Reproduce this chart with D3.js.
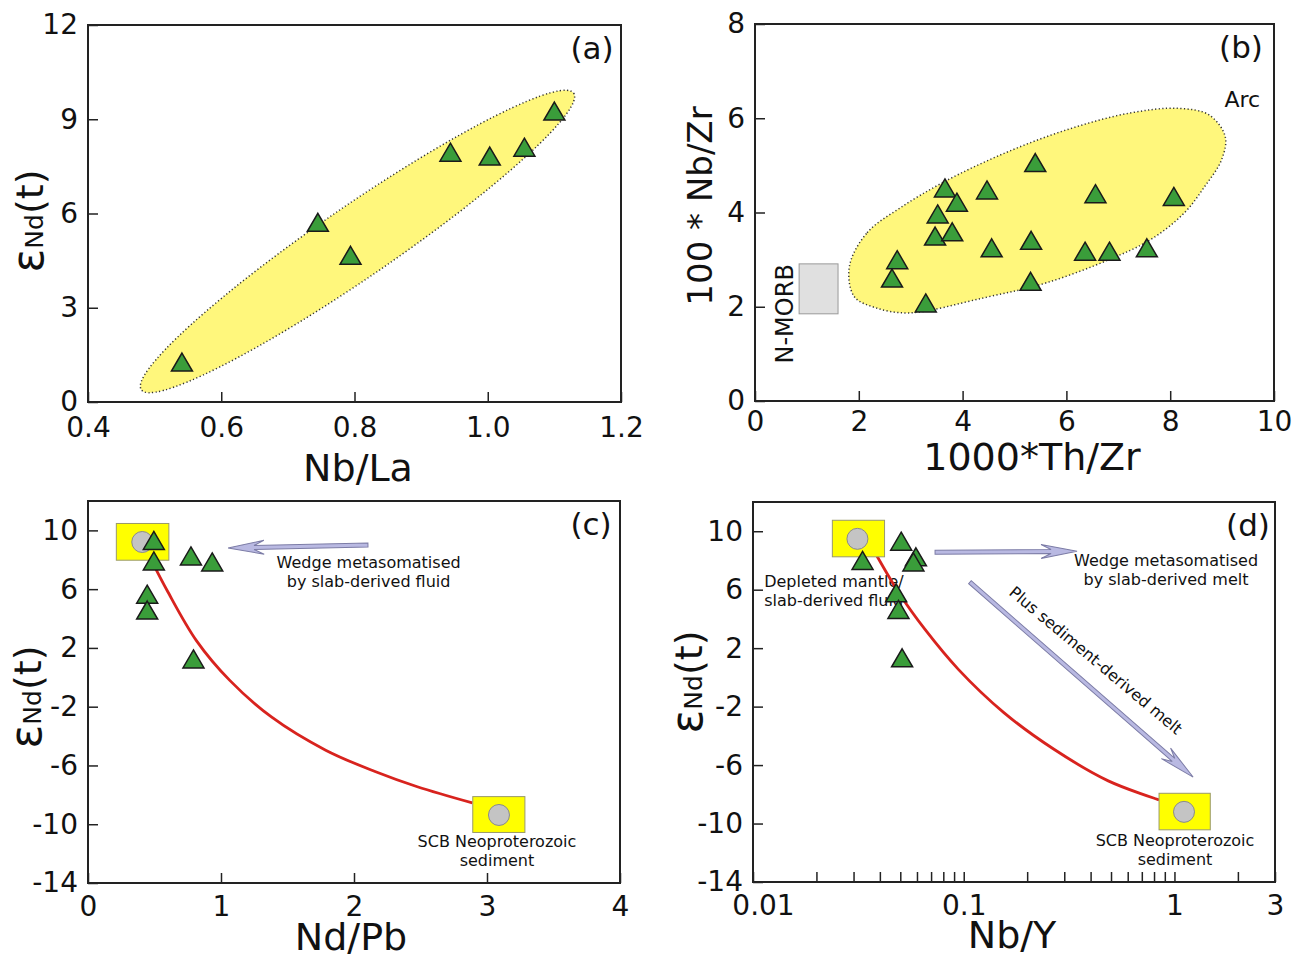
<!DOCTYPE html>
<html>
<head>
<meta charset="utf-8">
<script src="https://cdnjs.cloudflare.com/ajax/libs/d3/7.8.5/d3.min.js"></script>
<style>
  body { margin: 0; background: #fff; }
  text { font-family: "DejaVu Sans", sans-serif; }
</style>
</head>
<body>
<svg id="chart" width="1301" height="958"></svg>
<script>
// ---- data ----
// (a) Nb/La vs eNd(t)
const aNbLa = [0.541, 0.745, 0.794, 0.944, 1.003, 1.055, 1.100];
const aEnd  = [1.27, 5.72, 4.67, 7.95, 7.83, 8.11, 9.26];
const aRegionTips = [[0.480, 0.39], [1.129, 9.83]];

// (b) 1000*Th/Zr vs 100*Nb/Zr
const bThZr = [3.66, 4.47, 3.89, 5.40, 6.56, 8.07, 3.52, 3.47, 3.80, 4.56, 5.32, 6.36, 6.83, 7.55, 2.74, 2.64, 5.31, 3.29];
const bNbZr = [4.52, 4.48, 4.22, 5.06, 4.40, 4.34, 3.97, 3.50, 3.59, 3.25, 3.41, 3.18, 3.18, 3.25, 3.00, 2.61, 2.54, 2.08];
const bArcX = [1.82, 2.16, 2.80, 3.66, 4.81, 6.02, 7.22, 8.15, 8.75, 9.06, 8.99, 8.67, 8.27, 7.63, 6.82, 5.62, 4.41, 2.96, 2.32, 1.91];
const bArcY = [2.86, 3.57, 4.10, 4.66, 5.26, 5.76, 6.11, 6.21, 6.07, 5.61, 5.12, 4.56, 3.99, 3.43, 3.00, 2.51, 2.19, 1.87, 1.98, 2.22];
const nmorbX = [0.85, 1.60];
const nmorbY = [1.85, 2.91];

// (c) Nd/Pb vs eNd(t)
const cNdPb = [0.495, 0.495, 0.774, 0.934, 0.445, 0.445, 0.793];
const cEnd  = [9.32, 7.92, 8.26, 7.85, 5.66, 4.58, 1.25];
const cMixX = [0.50, 0.596, 0.815, 1.066, 1.379, 1.787, 2.163, 2.476, 2.89];
const cMixY = [7.55, 5.89, 2.50, -0.21, -2.70, -4.96, -6.43, -7.45, -8.55];
// end members: [x0, x1, y0, y1, cx, cy]
const cEnds = [[0.213, 0.608, 7.97, 10.47, 0.408, 9.21], [2.893, 3.285, -10.56, -8.12, 3.09, -9.37]];

// (d) Nb/Y vs eNd(t)
const dNbY = [0.0505, 0.0331, 0.0593, 0.0577, 0.0478, 0.0490, 0.0510];
const dEnd = [9.32, 8.00, 8.25, 7.90, 5.79, 4.65, 1.34];
const dMixX = [0.0388, 0.0498, 0.0655, 0.0943, 0.155, 0.268, 0.485, 0.845];
const dMixY = [8.29, 5.67, 3.28, 0.55, -2.41, -4.92, -7.08, -8.38];
const dEnds = [[0.0238, 0.0421, 8.25, 10.75, 0.0313, 9.48], [0.845, 1.479, -10.43, -7.93, 1.11, -9.20]];

// ticks
const aXTicks = [0.4, 0.6, 0.8, 1.0, 1.2];
const aYTicks = [0, 3, 6, 9, 12];
const bXTicks = [0, 2, 4, 6, 8, 10];
const bYTicks = [0, 2, 4, 6, 8];
const cXTicks = [0, 1, 2, 3, 4];
const eYTicks = [-14, -10, -6, -2, 2, 6, 10];
const dXTicks = [0.01, 0.02, 0.03, 0.04, 0.05, 0.06, 0.07, 0.08, 0.09,
                 0.1, 0.2, 0.3, 0.4, 0.5, 0.6, 0.7, 0.8, 0.9, 1, 2, 3];
const dXLabels = {0.01: "0.01", 0.1: "0.1", 1: "1", 3: "3"};

const svg = d3.select("#chart");
const FONT = "DejaVu Sans";
const plain = d => String(d);   // hyphen-minus, as in the figure

function makePanel(p) {
  const x = (p.log ? d3.scaleLog() : d3.scaleLinear()).domain(p.xDomain).range([p.left, p.right]);
  const y = d3.scaleLinear().domain(p.yDomain).range([p.bottom, p.top]);
  return Object.assign({x, y}, p);
}

function drawAxes(P) {
  const gx = svg.append("g")
    .attr("transform", `translate(0,${P.bottom})`)
    .call(d3.axisBottom(P.x).tickValues(P.xTicks).tickSize(-10).tickPadding(P.xPad).tickFormat(P.xFormat));
  const gy = svg.append("g")
    .attr("transform", `translate(${P.left},0)`)
    .call(d3.axisLeft(P.y).tickValues(P.yTicks).tickSize(-10).tickPadding(10).tickFormat(plain));
  [gx, gy].forEach(g => {
    g.select(".domain").remove();
    g.selectAll("line").attr("stroke", "#222").attr("stroke-width", 1.5);
    g.selectAll("text").attr("font-size", 28).attr("font-family", FONT).attr("fill", "#111");
  });
  svg.append("rect")
    .attr("x", P.left).attr("y", P.top)
    .attr("width", P.right - P.left).attr("height", P.bottom - P.top)
    .attr("fill", "none").attr("stroke", "#222").attr("stroke-width", 2);
  svg.append("text").attr("x", P.letterX).attr("y", P.top + 34)
    .attr("text-anchor", "middle").attr("font-size", 31).attr("fill", "#111").text(P.letter);
  return gx;
}

function triangles(P, xs, ys) {
  const w = 21, h = 18;
  svg.append("g").selectAll("path")
    .data(xs.map((v, i) => [v, ys[i]]))
    .join("path")
    .attr("d", d => {
      const cx = P.x(d[0]), cy = P.y(d[1]);
      return `M${cx},${cy - h / 2}L${cx + w / 2},${cy + h / 2}L${cx - w / 2},${cy + h / 2}Z`;
    })
    .attr("fill", "#3a9d3a").attr("stroke", "#1a1a1a").attr("stroke-width", 1.5);
}

function endMembers(P, boxes) {
  const g = svg.append("g");
  boxes.forEach(b => {
    g.append("rect")
      .attr("x", P.x(b[0])).attr("y", P.y(b[3]))
      .attr("width", P.x(b[1]) - P.x(b[0])).attr("height", P.y(b[2]) - P.y(b[3]))
      .attr("fill", "#ffff00").attr("stroke", "#9a9a6a").attr("stroke-width", 1);
    g.append("circle")
      .attr("cx", P.x(b[4])).attr("cy", P.y(b[5])).attr("r", 10.5)
      .attr("fill", "#c4c4c4").attr("stroke", "#8a8a8a").attr("stroke-width", 1);
  });
}

function mixCurve(P, xs, ys) {
  const line = d3.line().x(d => P.x(d[0])).y(d => P.y(d[1])).curve(d3.curveCatmullRom.alpha(0.5));
  svg.append("path")
    .attr("d", line(xs.map((v, i) => [v, ys[i]])))
    .attr("fill", "none").attr("stroke", "#d8231e").attr("stroke-width", 2.8);
}

function arrow(P, tail, tip) {
  const x0 = P.x(tail[0]), y0 = P.y(tail[1]);
  const x1 = P.x(tip[0]), y1 = P.y(tip[1]);
  const len = Math.hypot(x1 - x0, y1 - y0);
  const ang = Math.atan2(y1 - y0, x1 - x0) * 180 / Math.PI;
  const hl = 36, hw = 7, sw = 2, notch = 26;
  // drawn pointing to +x, with the tip at the origin
  const pts = [[0, 0], [-hl, -hw], [-notch, -sw], [-len, -sw], [-len, sw], [-notch, sw], [-hl, hw]];
  svg.append("path")
    .attr("transform", `translate(${x1},${y1}) rotate(${ang})`)
    .attr("d", "M" + pts.join("L") + "Z")
    .attr("fill", "#b9b9e2").attr("stroke", "#7c7ca6").attr("stroke-width", 1);
}

function note(P, xv, yv, lines, anchor, size) {
  const t = svg.append("text")
    .attr("x", P.x(xv)).attr("y", P.y(yv))
    .attr("text-anchor", anchor || "middle")
    .attr("font-size", size || 16).attr("fill", "#111");
  lines.forEach((s, i) => t.append("tspan").attr("x", P.x(xv)).attr("dy", i ? 19 : 0).text(s));
  return t;
}

function epsLabel(xb, yc) {
  const t = svg.append("text")
    .attr("transform", `translate(${xb},${yc}) rotate(-90)`)
    .attr("text-anchor", "middle").attr("fill", "#111");
  t.append("tspan").attr("font-size", 44).text("ε");
  t.append("tspan").attr("font-size", 25).text("Nd");
  t.append("tspan").attr("font-size", 38).text("(t)");
}

function xTitle(x, y, s) {
  svg.append("text").attr("x", x).attr("y", y).attr("text-anchor", "middle")
    .attr("font-size", 38).attr("fill", "#111").text(s);
}

// ---- panel (a) ----
const A = makePanel({left: 88, right: 621, top: 25, bottom: 402, xDomain: [0.4, 1.2], yDomain: [0, 12],
  xTicks: aXTicks, yTicks: aYTicks, xFormat: d3.format(".1f"), xPad: 15, letter: "(a)", letterX: 592});
{
  const [p0, p1] = aRegionTips;
  const ax0 = A.x(p0[0]), ay0 = A.y(p0[1]), ax1 = A.x(p1[0]), ay1 = A.y(p1[1]);
  svg.append("ellipse")
    .attr("transform", `translate(${(ax0 + ax1) / 2},${(ay0 + ay1) / 2}) rotate(${Math.atan2(ay1 - ay0, ax1 - ax0) * 180 / Math.PI})`)
    .attr("rx", Math.hypot(ax1 - ax0, ay1 - ay0) / 2).attr("ry", 36)
    .attr("fill", "#fff77c").attr("stroke", "#333").attr("stroke-width", 1.5)
    .attr("stroke-dasharray", "1.2 2.4");
}
triangles(A, aNbLa, aEnd);
drawAxes(A);
xTitle(358, 481, "Nb/La");
epsLabel(43, 221);

// ---- panel (b) ----
const B = makePanel({left: 755, right: 1274, top: 24, bottom: 401, xDomain: [0, 10], yDomain: [0, 8],
  xTicks: bXTicks, yTicks: bYTicks, xFormat: plain, xPad: 10, letter: "(b)", letterX: 1241});
svg.append("path")
  .attr("d", d3.line().x(d => B.x(d[0])).y(d => B.y(d[1])).curve(d3.curveCatmullRomClosed.alpha(0.5))(bArcX.map((v, i) => [v, bArcY[i]])))
  .attr("fill", "#fff77c").attr("stroke", "#333").attr("stroke-width", 1.5)
  .attr("stroke-dasharray", "1.2 2.4");
svg.append("rect")
  .attr("x", B.x(nmorbX[0])).attr("y", B.y(nmorbY[1]))
  .attr("width", B.x(nmorbX[1]) - B.x(nmorbX[0])).attr("height", B.y(nmorbY[0]) - B.y(nmorbY[1]))
  .attr("fill", "#e0e0e0").attr("stroke", "#999").attr("stroke-width", 1);
svg.append("text")
  .attr("transform", `translate(${B.x(0.73)},${B.y(1.85)}) rotate(-90)`)
  .attr("text-anchor", "middle").attr("font-size", 24).attr("fill", "#111").text("N-MORB");
note(B, 9.39, 6.24, ["Arc"], "middle", 22);
triangles(B, bThZr, bNbZr);
drawAxes(B);
xTitle(1032, 470, "1000*Th/Zr");
svg.append("text")
  .attr("transform", `translate(712,206) rotate(-90)`)
  .attr("text-anchor", "middle").attr("font-size", 34).attr("fill", "#111").text("100 * Nb/Zr");

// ---- panel (c) ----
const C = makePanel({left: 88, right: 620, top: 501, bottom: 883, xDomain: [0, 4], yDomain: [-14, 12],
  xTicks: cXTicks, yTicks: eYTicks, xFormat: plain, xPad: 13, letter: "(c)", letterX: 591});
note(C, 2.11, 7.44, ["Wedge metasomatised", "by slab-derived fluid"]);
note(C, 3.075, -11.55, ["SCB Neoproterozoic", "sediment"]);
mixCurve(C, cMixX, cMixY);
arrow(C, [2.105, 9.0], [1.053, 8.8]);
endMembers(C, cEnds);
triangles(C, cNdPb, cEnd);
drawAxes(C);
xTitle(351, 950, "Nd/Pb");
epsLabel(41, 697);

// ---- panel (d) ----
const D = makePanel({left: 753, right: 1275, top: 502, bottom: 882, xDomain: [0.01, 3], yDomain: [-14, 12], log: true,
  xTicks: dXTicks, yTicks: eYTicks, xFormat: d => dXLabels[d] || "", xPad: 13, letter: "(d)", letterX: 1248});
note(D, 0.912, 7.60, ["Wedge metasomatised", "by slab-derived melt"]);
note(D, 1.006, -11.53, ["SCB Neoproterozoic", "sediment"]);
note(D, 0.0113, 6.17, ["Depleted mantle/", "slab-derived fluid"], "start");
svg.append("text")
  .attr("transform", `translate(${D.x(0.420)},${D.y(1.11)}) rotate(40)`)
  .attr("text-anchor", "middle").attr("dominant-baseline", "middle")
  .attr("font-size", 16).attr("fill", "#111").text("Plus sediment-derived melt");
mixCurve(D, dMixX, dMixY);
arrow(D, [0.0731, 8.56], [0.345, 8.63]);
arrow(D, [0.107, 6.51], [1.226, -6.82]);
endMembers(D, dEnds);
triangles(D, dNbY, dEnd);
const dAxis = drawAxes(D);
dAxis.selectAll(".tick text").filter(d => d === 0.01).attr("dx", 10);
xTitle(1012, 948, "Nb/Y");
epsLabel(702, 682);
</script>
</body>
</html>
